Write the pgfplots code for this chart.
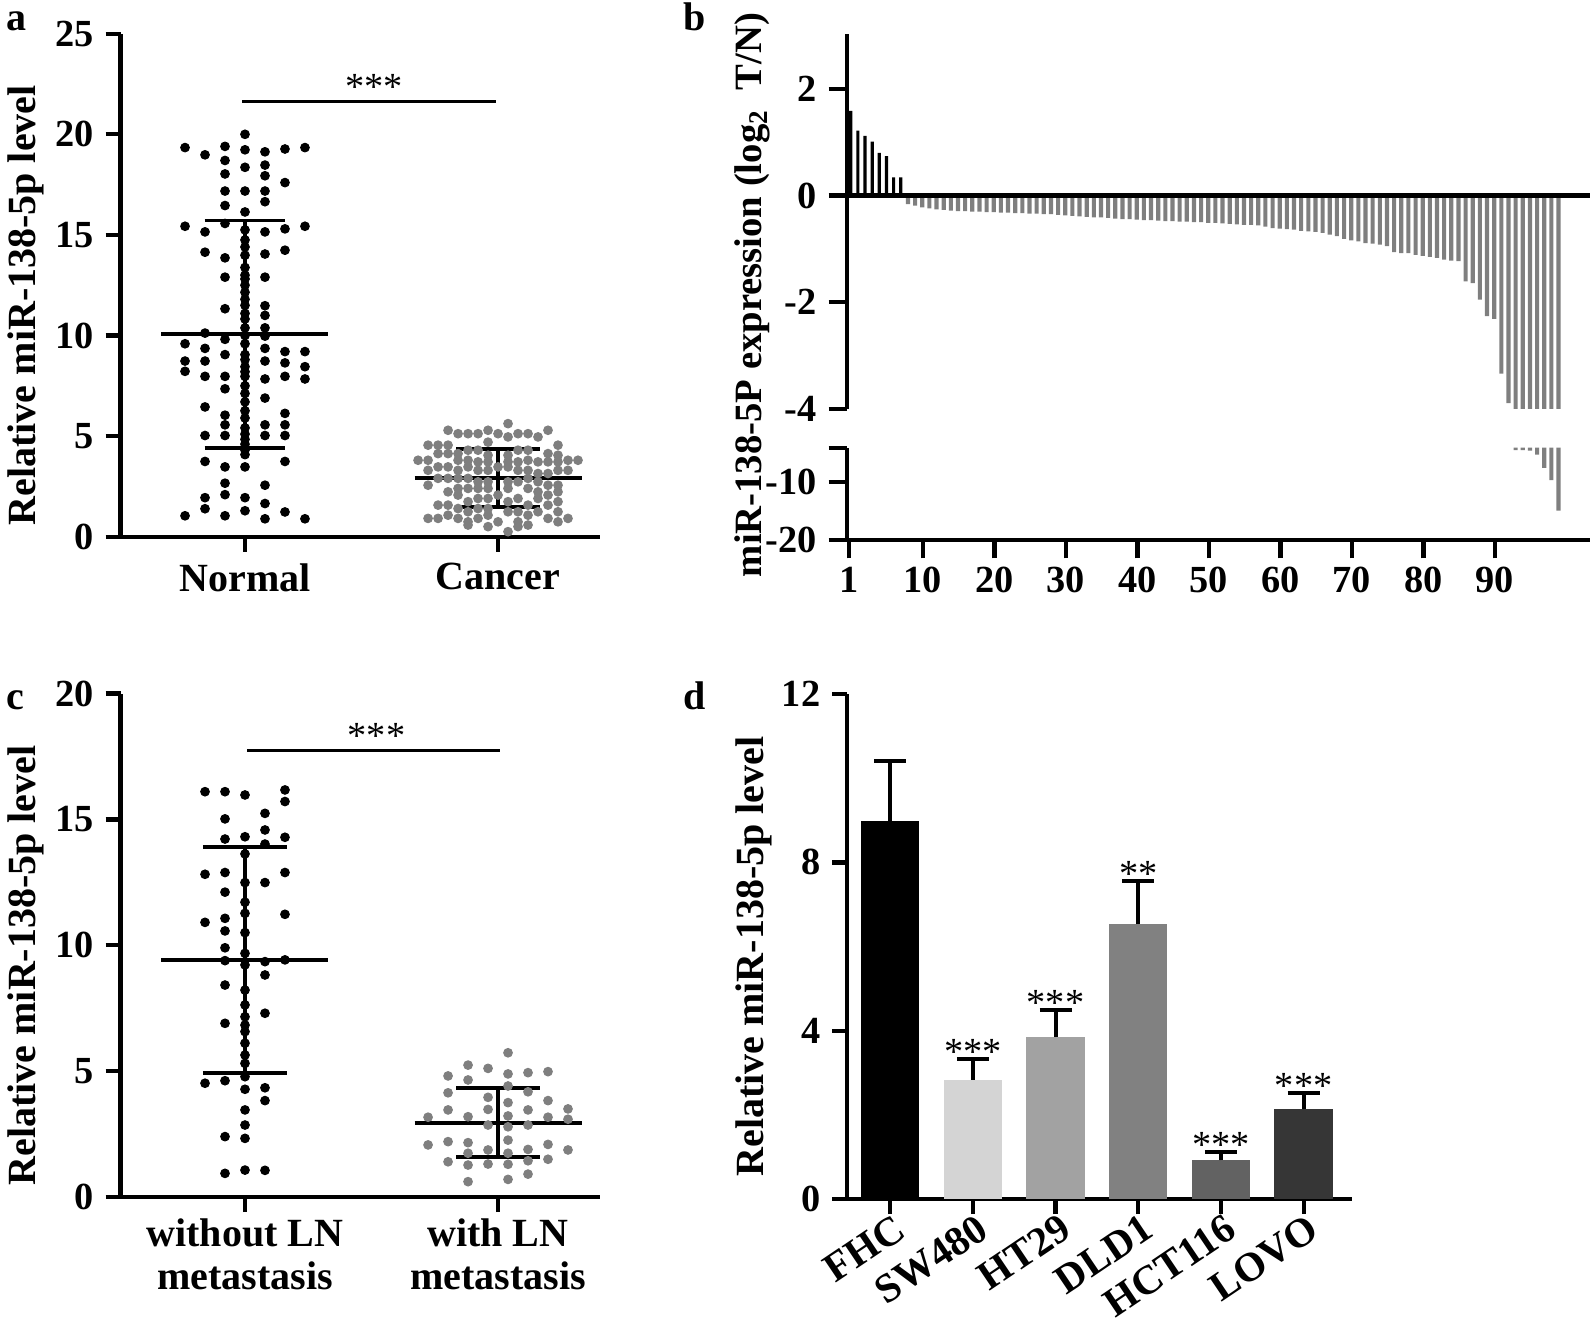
\documentclass[border=0pt]{standalone}
\usepackage{fontspec}
\setmainfont{Liberation Serif}
\usepackage{pgfplots}
\pgfplotsset{compat=1.18}
\definecolor{dotgray}{HTML}{7F7F7F}
\definecolor{bargray}{HTML}{7F7F7F}
\definecolor{cSW}{HTML}{D4D4D4}
\definecolor{cHT}{HTML}{A2A2A2}
\definecolor{cDL}{HTML}{818181}
\definecolor{cHC}{HTML}{626262}
\definecolor{cLO}{HTML}{363636}
\pgfplotsset{
 base/.style={
  scale only axis, clip=false,
  axis x line*=bottom, axis y line*=left,
  axis line style={line width=1.3pt, -},
  tick style={line width=1.3pt, black},
  major tick length=4.5pt,
  tick align=outside,
  ticklabel style={font=\fontsize{11.5}{11.5}\selectfont\bfseries},
  /pgf/number format/assume math mode=true,
  ylabel style={font=\fontsize{12}{12}\selectfont\bfseries, anchor=north, inner sep=0pt},
 },
 blackdots/.style={only marks, mark=*, mark size=1.3pt, color=black, mark options={fill=black, draw=black, line width=0.3pt}},
 graydots/.style={only marks, mark=*, mark size=1.3pt, color=dotgray, mark options={fill=dotgray, draw=dotgray, line width=0.3pt}},
 statline/.style={black, line width=1.15pt, mark=none},
 sigline/.style={black, line width=0.9pt, mark=none},
}
\tikzset{stars/.style={anchor=base, inner sep=0pt, font=\fontsize{11.5}{11.5}\selectfont}}
\begin{document}
\begin{tikzpicture}
\useasboundingbox (0pt,0pt) rectangle (477.9pt,397.2pt);
% panel letters
\node[anchor=base west, inner sep=0pt, font=\fontsize{12}{12}\selectfont\bfseries] at (1.7pt,388pt) {a};
\node[anchor=base west, inner sep=0pt, font=\fontsize{12}{12}\selectfont\bfseries] at (204.9pt,388pt) {b};
\node[anchor=base west, inner sep=0pt, font=\fontsize{12}{12}\selectfont\bfseries] at (1.7pt,184.5pt) {c};
\node[anchor=base west, inner sep=0pt, font=\fontsize{12}{12}\selectfont\bfseries] at (204.9pt,184.5pt) {d};

% ---------------- panel a
\begin{axis}[base, at={(36.15pt,236.19pt)}, anchor=south west, width=143.85pt, height=150.9pt,
 xmin=0.508, xmax=2.403, ymin=0, ymax=25, ytick={0,5,10,15,20,25},
 xtick={1,2}, xticklabels={Normal,Cancer},
 xticklabel style={font=\fontsize{12}{12}\selectfont\bfseries},
 ylabel={Relative miR-138-5p level}, ylabel style={at={(axis description cs:-0.2355,0.46)}}]
\addplot[blackdots] table[row sep=\\, x expr={1+0.0395*\thisrow{k}}, y=v]{
k v\\ 0 20.0\\ -6 19.34\\ -2 19.4\\ 0 19.23\\ 2 19.13\\ 4 19.27\\ 6 19.34\\ -4 18.98\\ -2 18.7\\ 0 18.36\\ 2 18.47\\
-2 18.03\\ 2 17.94\\ 4 17.6\\ -2 17.18\\ 0 17.18\\ 2 17.18\\ 2 16.65\\ -2 16.46\\ 0 16.14\\ -2 15.57\\ -6 15.43\\ 6 15.43\\
0 15.25\\ -4 15.15\\ 2 15.15\\ 4 15.3\\ 0 14.75\\ -4 14.14\\ 4 14.24\\ 2 14.05\\ -2 13.86\\ 0 13.99\\ 0 13.38\\ -2 12.9\\
2 12.9\\ 0 12.81\\ 0 12.15\\ 2 11.48\\ -2 11.33\\ 2 11.0\\ 0 10.82\\ 2 10.38\\ 0 10.38\\ -4 10.12\\ 2 9.97\\ -2 9.81\\
-6 9.59\\ 0 9.59\\ -4 9.36\\ 2 9.36\\ 4 9.2\\ 6 9.2\\ -2 9.05\\ 0 9.05\\ -6 8.73\\ -4 8.73\\ 2 8.73\\ 4 8.64\\ 0 8.45\\
6 8.45\\ -6 8.22\\ -4 7.97\\ -2 7.97\\ 4 7.97\\ 0 7.97\\ 2 7.84\\ 6 7.84\\ -2 7.35\\ 0 7.12\\ 2 6.89\\ -4 6.45\\ 0 6.26\\
4 6.13\\ -2 6.04\\ 4 5.56\\ -2 5.56\\ 2 5.56\\ 0 5.41\\ -4 5.03\\ -2 5.03\\ 2 5.03\\ 4 5.03\\ 0 4.84\\ 0 4.31\\ 0 4.08\\
-4 3.74\\ 4 3.74\\ 0 3.47\\ -2 3.47\\ -2 2.66\\ 2 2.56\\ -2 2.09\\ -4 1.94\\ 0 1.94\\ 2 1.65\\ -4 1.39\\ 0 1.29\\ 4 1.23\\
-6 1.04\\ -2 1.04\\ 2 0.89\\ 6 0.89\\ 0 14.4\\ 0 13.0\\ 0 12.5\\ 0 11.8\\ 0 11.5\\ 0 11.1\\ 0 10.0\\ 0 8.8\\ 0 8.2\\
0 7.5\\ 0 6.7\\ 0 5.9\\ 0 5.1\\ 0 4.6\\
};
\addplot[graydots] table[row sep=\\, x expr={2+0.0395*\thisrow{k}}, y=v]{
k v\\ 1 5.62\\ -5 5.29\\ -1 5.29\\ 5 5.29\\ -4 5.12\\ -3 5.12\\ -2 5.12\\ 0 5.12\\ 2 5.12\\ 3 5.12\\ 1 4.96\\ 4 4.96\\
-1 4.70\\ -7 4.55\\ -6 4.55\\ -5 4.55\\ 6 4.55\\ -3 4.30\\ -2 4.30\\ 2 4.30\\ 3 4.30\\ -6 4.13\\ -5 4.13\\ -4 4.13\\
5 4.13\\ 6 4.05\\ -1 4.05\\ 1 4.05\\ -8 3.80\\ -7 3.80\\ -4 3.80\\ -3 3.80\\ 3 3.80\\ 7 3.80\\ 8 3.80\\ -2 3.72\\
-1 3.72\\ 1 3.72\\ 2 3.72\\ 4 3.72\\ 5 3.72\\ 6 3.72\\ -6 3.47\\ -5 3.47\\ -3 3.47\\ 0 3.47\\ 1 3.47\\ -7 3.30\\
-4 3.30\\ -2 3.30\\ -1 3.30\\ 2 3.30\\ 3 3.30\\ 6 3.30\\ 7 3.30\\ 5 3.14\\ 4 3.14\\ -6 2.90\\ -5 2.90\\ -4 2.90\\
-3 2.90\\ 3 2.90\\ -2 2.73\\ -1 2.73\\ 1 2.73\\ 2 2.73\\ 4 2.73\\ -7 2.56\\ 5 2.56\\ 6 2.56\\ -4 2.40\\ -3 2.40\\
-2 2.40\\ -1 2.40\\ 1 2.40\\ 3 2.40\\ -5 2.23\\ 4 2.23\\ 6 2.23\\ -4 2.07\\ 0 2.07\\ 5 2.07\\ -2 1.90\\ -1 1.90\\
2 1.90\\ 4 1.90\\ -3 1.74\\ 1 1.74\\ 6 1.74\\ -6 1.57\\ -5 1.57\\ 5 1.57\\ 3 1.57\\ -4 1.40\\ -2 1.40\\ -1 1.40\\
-3 1.24\\ 1 1.24\\ 2 1.24\\ 4 1.24\\ 6 1.24\\ -5 1.07\\ -1 1.07\\ 3 1.07\\ -7 0.91\\ -6 0.91\\ -4 0.91\\ -2 0.91\\
5 0.91\\ 7 0.91\\ -3 0.74\\ 0 0.74\\ 2 0.74\\ 6 0.74\\ -3 0.58\\ 3 0.58\\ -1 0.50\\ 2 0.50\\ 1 0.25\\
};
\addplot[statline] coordinates {(0.67,10.06) (1.33,10.06)};
\addplot[statline] coordinates {(0.84,15.72) (1.16,15.72)};
\addplot[statline] coordinates {(0.84,4.42) (1.16,4.42)};
\addplot[statline] coordinates {(1,4.42) (1,15.72)};
\addplot[statline] coordinates {(1.67,2.92) (2.33,2.92)};
\addplot[statline] coordinates {(1.835,4.38) (2.165,4.38)};
\addplot[statline] coordinates {(1.835,1.46) (2.165,1.46)};
\addplot[statline] coordinates {(2,1.46) (2,4.38)};
\addplot[sigline] coordinates {(0.99,21.65) (1.99,21.65)};
\node[stars, yshift=0.5pt] at (axis cs:1.51,21.65) {***};
\end{axis}

% ---------------- panel c
\begin{axis}[base, at={(36.15pt,38.1pt)}, anchor=south west, width=143.85pt, height=151.05pt,
 xmin=0.508, xmax=2.403, ymin=0, ymax=20, ytick={0,5,10,15,20},
 xtick={1,2}, xticklabels={{without LN\\metastasis},{with LN\\metastasis}},
 xticklabel style={font=\fontsize{12}{13}\selectfont\bfseries, align=center, yshift=1.5pt},
 ylabel={Relative miR-138-5p level}, ylabel style={at={(axis description cs:-0.2355,0.46)}}]
\addplot[blackdots] table[row sep=\\, x expr={1+0.0395*\thisrow{k}}, y=v]{
k v\\ -4 16.10\\ -2 16.10\\ 0 15.97\\ 4 16.17\\ 4 15.71\\ -2 15.02\\ 2 15.24\\ 2 14.58\\ -2 14.22\\ 0 14.31\\
4 14.29\\ 2 14.02\\ 0 13.63\\ -4 12.82\\ -2 12.89\\ 4 12.89\\ 0 12.49\\ 2 12.49\\ -2 12.11\\ 0 11.71\\ 0 11.27\\
-4 10.91\\ -2 11.07\\ -2 10.57\\ 4 11.23\\ 0 10.50\\ -2 9.90\\ 0 9.68\\ -2 9.39\\ 0 9.22\\ 2 9.35\\ 4 9.42\\
2 8.82\\ -2 8.42\\ 0 8.22\\ 0 7.63\\ 2 7.30\\ 0 7.16\\ -2 6.90\\ 0 6.83\\ 0 6.57\\ 0 6.11\\ 0 5.64\\ 0 5.31\\
-4 4.52\\ -2 4.62\\ 0 4.78\\ 0 4.28\\ 2 4.34\\ 2 3.83\\ 0 3.46\\ 0 2.86\\ -2 2.40\\ 0 2.33\\ -2 0.94\\ 0 1.07\\ 2 1.06\\
};
\addplot[graydots] table[row sep=\\, x expr={2+0.0395*\thisrow{k}}, y=v]{
k v\\ 1 5.73\\ -3 5.24\\ -1 5.11\\ -5 4.81\\ 1 4.89\\ 3 4.94\\ 5 4.98\\ -3 4.65\\ 1 4.41\\ -5 4.14\\ 3 4.18\\
-1 3.96\\ 5 3.83\\ 1 3.75\\ -5 3.46\\ -1 3.48\\ 3 3.46\\ 7 3.50\\ -7 3.17\\ -3 3.19\\ 1 3.22\\ 5 3.17\\ 7 3.09\\
-1 2.86\\ 1 2.79\\ 3 2.86\\ -7 2.07\\ -5 2.20\\ -3 2.16\\ 1 2.26\\ -1 1.87\\ 3 1.89\\ 5 2.09\\ 7 1.87\\ -3 1.74\\
1 1.74\\ -5 1.40\\ -3 1.27\\ -1 1.31\\ 1 1.30\\ 3 1.44\\ 5 1.50\\ 3 0.91\\ 1 0.70\\ -3 0.61\\
};
\addplot[statline] coordinates {(0.67,9.42) (1.33,9.42)};
\addplot[statline] coordinates {(0.834,13.92) (1.166,13.92)};
\addplot[statline] coordinates {(0.834,4.93) (1.166,4.93)};
\addplot[statline] coordinates {(1,4.93) (1,13.92)};
\addplot[statline] coordinates {(1.67,2.95) (2.33,2.95)};
\addplot[statline] coordinates {(1.834,4.34) (2.166,4.34)};
\addplot[statline] coordinates {(1.834,1.58) (2.166,1.58)};
\addplot[statline] coordinates {(2,1.58) (2,4.34)};
\addplot[sigline] coordinates {(1.008,17.75) (2.008,17.75)};
\node[stars, yshift=0.5pt] at (axis cs:1.52,17.75) {***};
\end{axis}

% ---------------- panel b (upper)
\begin{axis}[scale only axis, at={(254.1pt,274.53pt)}, anchor=south west, width=222.9pt, height=112.47pt,
 xmin=0.48, xmax=104.4, ymin=-4, ymax=3.03,
 axis x line=middle, axis y line=left, axis line style={line width=1.3pt,-},
 tick style={line width=1.3pt,black}, major tick length=5.5pt, tick align=outside,
 xtick=\empty, ytick={-4,-2,0,2}, yticklabels={-4,-2,0,2},
 ticklabel style={font=\fontsize{11.5}{11.5}\selectfont\bfseries},
 ybar, clip=true, axis on top,
 ylabel={miR-138-5P expression (log\textsubscript{2}\ \ T/N)},
 ylabel style={font=\fontsize{11.6}{11.6}\selectfont\bfseries, anchor=north, inner sep=0pt, at={(axis description cs:-0.152,0.304)}}]
\addplot[fill=black, draw=none, bar width=0.45, bar shift=0pt] table[row sep=\\]{
x y\\ 1 1.59\\ 2 1.22\\ 3 1.12\\ 4 1.01\\ 5 0.80\\ 6 0.74\\ 7 0.34\\ 8 0.34\\
};
\addplot[fill=bargray, draw=none, bar width=0.58, bar shift=0pt] table[row sep=\\]{
x y\\ 9 -0.16\\ 10 -0.19\\ 11 -0.22\\ 12 -0.24\\ 13 -0.26\\ 14 -0.27\\ 15 -0.28\\ 16 -0.29\\ 17 -0.29\\ 18 -0.30\\
19 -0.30\\ 20 -0.31\\ 21 -0.31\\ 22 -0.32\\ 23 -0.32\\ 24 -0.33\\ 25 -0.33\\ 26 -0.34\\ 27 -0.34\\ 28 -0.35\\
29 -0.35\\ 30 -0.36\\ 31 -0.37\\ 32 -0.38\\ 33 -0.39\\ 34 -0.40\\ 35 -0.41\\ 36 -0.41\\ 37 -0.42\\ 38 -0.43\\
39 -0.44\\ 40 -0.44\\ 41 -0.45\\ 42 -0.46\\ 43 -0.46\\ 44 -0.47\\ 45 -0.48\\ 46 -0.48\\ 47 -0.49\\ 48 -0.49\\
49 -0.50\\ 50 -0.50\\ 51 -0.51\\ 52 -0.51\\ 53 -0.52\\ 54 -0.53\\ 55 -0.54\\ 56 -0.55\\ 57 -0.55\\ 58 -0.56\\
59 -0.58\\ 60 -0.61\\ 61 -0.62\\ 62 -0.63\\ 63 -0.64\\ 64 -0.66\\ 65 -0.67\\ 66 -0.68\\ 67 -0.70\\ 68 -0.73\\
69 -0.76\\ 70 -0.81\\ 71 -0.84\\ 72 -0.86\\ 73 -0.89\\ 74 -0.90\\ 75 -0.92\\ 76 -0.95\\ 77 -1.06\\ 78 -1.08\\
79 -1.08\\ 80 -1.11\\ 81 -1.13\\ 82 -1.15\\ 83 -1.17\\ 84 -1.20\\ 85 -1.22\\ 86 -1.23\\ 87 -1.61\\ 88 -1.64\\
89 -1.95\\ 90 -2.26\\ 91 -2.31\\ 92 -3.34\\ 93 -3.89\\ 94 -4.4\\ 95 -4.4\\ 96 -4.5\\ 97 -5.2\\ 98 -7.5\\
99 -9.6\\ 100 -14.9\\
};
\end{axis}

% ---------------- panel b (lower)
\begin{axis}[scale only axis, at={(254.1pt,235.2pt)}, anchor=south west, width=222.9pt, height=27.69pt,
 xmin=0.48, xmax=104.4, ymin=-20, ymax=-4,
 axis x line=bottom, axis y line=left, axis line style={line width=1.3pt,-},
 tick style={line width=1.3pt,black}, major tick length=5.5pt, tick align=outside,
 ytick={-20,-10,-4}, yticklabels={-20,-10,{}},
 xtick={0.8,11.1,21.1,31.1,41.1,51.1,61.1,71.1,81.1,91.1}, xticklabels={1,10,20,30,40,50,60,70,80,90},
 ticklabel style={font=\fontsize{11.5}{11.5}\selectfont\bfseries},
 xticklabel style={yshift=1pt},
 ybar, clip=true]
\addplot[fill=bargray, draw=none, bar width=0.58, bar shift=0pt] table[row sep=\\]{
x y\\ 94 -4.4\\ 95 -4.4\\ 96 -4.5\\ 97 -5.2\\ 98 -7.5\\ 99 -9.6\\ 100 -14.9\\
};
\end{axis}

% ---------------- panel d
\begin{axis}[base, at={(254.1pt,37.5pt)}, anchor=south west, width=151.41pt, height=151.5pt,
 xmin=0.48, xmax=6.58, ymin=0, ymax=12, ytick={0,4,8,12},
 xtick={1,2,3,4,5,6}, xticklabels={FHC,SW480,HT29,DLD1,HCT116,LOVO},
 xticklabel style={rotate=34, anchor=north east, xshift=4.3pt, yshift=3.4pt, font=\fontsize{12.3}{12.3}\selectfont\bfseries},
 ybar, ylabel={Relative miR-138-5p level}, ylabel style={at={(axis description cs:-0.222,0.48)}},
 error bars/y dir=plus, error bars/y explicit,
 error bars/error bar style={line width=1.2pt, black},
 error bars/error mark options={rotate=90, line width=1.2pt, mark size=4.8pt, black}]
\addplot[fill=black, draw=none, bar width=0.707, bar shift=0pt] coordinates {(1,8.98) +- (0,1.42)};
\addplot[fill=cSW, draw=none, bar width=0.707, bar shift=0pt] coordinates {(2,2.83) +- (0,0.49)};
\addplot[fill=cHT, draw=none, bar width=0.707, bar shift=0pt] coordinates {(3,3.85) +- (0,0.63)};
\addplot[fill=cDL, draw=none, bar width=0.707, bar shift=0pt] coordinates {(4,6.53) +- (0,1.02)};
\addplot[fill=cHC, draw=none, bar width=0.707, bar shift=0pt] coordinates {(5,0.92) +- (0,0.19)};
\addplot[fill=cLO, draw=none, bar width=0.707, bar shift=0pt] coordinates {(6,2.13) +- (0,0.38)};
\node[stars, yshift=-1.5pt] at (axis cs:2,3.32) {***};
\node[stars, yshift=-1.5pt] at (axis cs:3,4.48) {***};
\node[stars, yshift=-1.5pt] at (axis cs:4,7.55) {**};
\node[stars, yshift=-1.5pt] at (axis cs:5,1.11) {***};
\node[stars, yshift=-1.5pt] at (axis cs:6,2.51) {***};
\end{axis}
\end{tikzpicture}
\end{document}
